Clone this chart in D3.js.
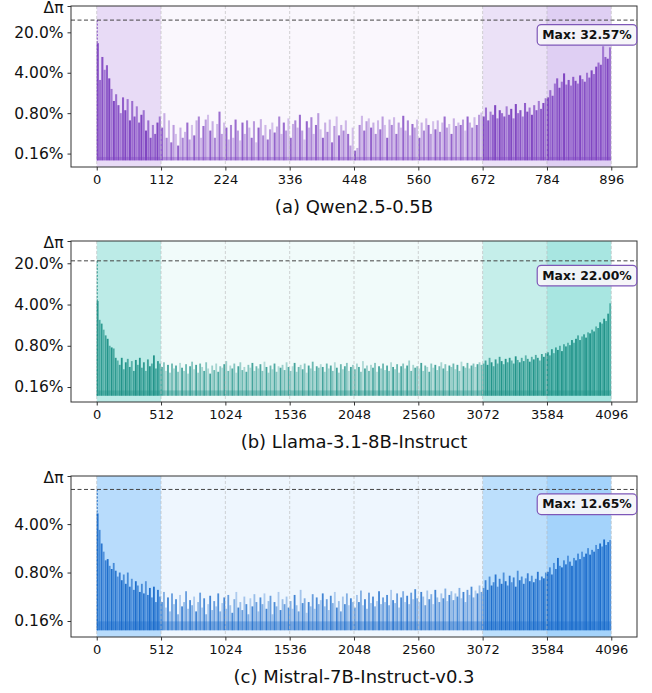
<!DOCTYPE html>
<html>
<head>
<meta charset="utf-8">
<script src="https://cdn.jsdelivr.net/npm/d3@7"></script>
<style>
  body { margin: 0; background: #fff; }
  text { font-family: "DejaVu Sans", sans-serif; }
</style>
</head>
<body>
<div id="chart"></div>
<script>
// token positions shown on the x axis
const qwenTicks = [0, 112, 224, 336, 448, 560, 672, 784, 896];
const longTicks = [0, 512, 1024, 1536, 2048, 2560, 3072, 3584, 4096];

// region boundaries (head / middle / tail1 / tail2)
const qwenBounds = [0, 112, 672, 784, 896];
const longBounds = [0, 512, 3072, 3584, 4096];

// y tick values (%) and labels
const yTicksA = [0.16, 0.8, 4, 20];
const yLabelsA = ["0.16%", "0.80%", "4.00%", "20.0%"];
const yTicksC = [0.16, 0.8, 4];
const yLabelsC = ["0.16%", "0.80%", "4.00%"];

// max value of each model (the sink token at position 0), in %
const maxValues = [32.57, 22.00, 12.65];

// Δπ per bin (%), binned along the sequence
const qwenValues = [
  13, 3.0, 7.5, 4.5, 5.4, 3.2, 2.1, 1.3, 1.7, 1.1, 0.8, 1.5, 0.9, 1.4,
  0.6, 1.3, 0.7, 1.05, 0.55, 0.75, 0.9, 0.4, 0.6, 0.3, 0.5, 0.35, 0.55, 0.7,
  0.45, 0.8, 0.3, 0.6, 0.25, 0.5, 0.35, 0.22, 0.45, 0.3,
  0.38, 0.55, 0.28, 0.5, 0.33, 0.6, 0.7, 0.3, 0.48, 0.62,
  0.75, 0.4, 0.58, 0.3, 0.52, 0.85, 0.35, 0.55, 0.45, 0.28,
  0.5, 0.3, 0.62, 0.4, 0.27, 0.55, 0.35, 0.6, 0.45, 0.3,
  0.58, 0.25, 0.45, 0.63, 0.33, 0.5, 0.28, 0.42, 0.55, 0.37,
  0.47, 0.7, 0.35, 0.55, 0.4, 0.65, 0.3, 0.52, 0.6, 0.45,
  0.75, 0.4, 0.28, 0.58, 0.45, 0.68, 0.35, 0.5, 0.8, 0.42,
  0.3, 0.55, 0.38, 0.62, 0.25, 0.48, 0.7, 0.33, 0.5, 0.4,
  0.6, 0.35, 0.22, 0.45, 0.18, 0.2, 0.5, 0.72, 0.4, 0.58,
  0.65, 0.45, 0.55, 0.35, 0.6, 0.42, 0.7, 0.5, 0.3, 0.62,
  0.5, 0.68, 0.35, 0.55, 0.45, 0.72, 0.4, 0.6, 0.33, 0.52,
  0.45, 0.62, 0.3, 0.55, 0.4, 0.65, 0.5, 0.35, 0.58, 0.42,
  0.6, 0.38, 0.55, 0.7, 0.45, 0.52, 0.35, 0.65, 0.48, 0.55,
  0.5, 0.62, 0.4, 0.7, 0.55, 0.45, 0.68, 0.5, 0.75, 0.82,
  0.7, 1.0, 0.6, 0.85, 0.75, 1.1, 0.65, 0.9, 0.8, 0.7, 1.05, 0.75, 0.95, 0.65,
  1.15, 0.8, 0.9, 0.7, 1.2, 0.85, 1.0, 0.75, 1.1, 0.9, 1.3, 0.95, 1.2, 1.45,
  1.5, 2.0, 1.6, 2.6, 3.2, 2.2, 2.8, 3.9, 2.5, 3.0, 2.4, 3.4, 2.9, 2.6,
  3.6, 3.1, 2.8, 4.0, 3.3, 4.4, 3.8, 5.1, 6.0, 5.5, 11.5, 7.5, 7.0, 11.0
];

const llamaValues = [
  4.6, 2.2, 1.9, 1.5, 1.2, 1.05, 0.8, 0.75, 0.72, 0.5,
  0.45, 0.38, 0.5, 0.32, 0.42, 0.48, 0.35, 0.44, 0.3, 0.46, 0.38,
  0.5, 0.34, 0.42, 0.3, 0.47, 0.36, 0.4, 0.55, 0.33, 0.44, 0.4,
  0.35, 0.42, 0.3, 0.38, 0.28, 0.4, 0.33, 0.37, 0.29, 0.41, 0.34, 0.3, 0.39, 0.27, 0.36, 0.43,
  0.32, 0.38, 0.28, 0.4, 0.35, 0.3, 0.42, 0.33, 0.27, 0.37, 0.31, 0.4, 0.29, 0.36, 0.34, 0.39,
  0.44, 0.3, 0.37, 0.33, 0.4, 0.28, 0.36, 0.42, 0.31, 0.35, 0.29, 0.38, 0.34, 0.41, 0.3, 0.36,
  0.33, 0.39, 0.3, 0.43, 0.35, 0.28, 0.37, 0.32, 0.4, 0.29, 0.36, 0.34, 0.38, 0.31, 0.42, 0.35,
  0.3, 0.36, 0.41, 0.29, 0.35, 0.38, 0.32, 0.4, 0.28, 0.37, 0.33, 0.43, 0.3, 0.36, 0.34, 0.39,
  0.35, 0.29, 0.4, 0.33, 0.37, 0.3, 0.42, 0.34, 0.28, 0.39, 0.32, 0.36, 0.41, 0.3, 0.35, 0.38,
  0.32, 0.4, 0.35, 0.29, 0.44, 0.33, 0.37, 0.3, 0.38, 0.34, 0.41, 0.29, 0.36, 0.33, 0.4, 0.31,
  0.37, 0.3, 0.42, 0.35, 0.32, 0.39, 0.28, 0.36, 0.4, 0.33, 0.37, 0.45, 0.3, 0.38, 0.34, 0.36,
  0.33, 0.41, 0.3, 0.37, 0.35, 0.29, 0.4, 0.34, 0.38, 0.31, 0.36, 0.42, 0.33, 0.39, 0.3, 0.37,
  0.35, 0.4, 0.32, 0.38, 0.3, 0.43, 0.36, 0.34, 0.41, 0.33, 0.37, 0.4, 0.35, 0.39, 0.42, 0.38,
  0.4, 0.45, 0.38, 0.5, 0.42, 0.36, 0.47, 0.4, 0.52, 0.44, 0.39, 0.48, 0.42, 0.5, 0.45, 0.4,
  0.53, 0.46, 0.42, 0.5, 0.44, 0.55, 0.48, 0.43, 0.52, 0.47, 0.56, 0.5, 0.45, 0.58, 0.52, 0.6,
  0.62, 0.55, 0.7, 0.6, 0.75, 0.68, 0.8, 0.65, 0.85, 0.78, 0.9, 0.82, 1.0, 0.9, 1.05, 1.2,
  1.0, 1.15, 1.25, 1.1, 1.35, 1.3, 1.5, 1.4, 1.7, 1.6, 2.0, 1.9, 2.3, 2.1, 2.8, 4.2
];

const mistralValues = [
  5.7, 3.3, 2.1, 1.6, 1.2, 1.25, 1.0, 0.9, 1.1, 0.85, 0.7, 0.8, 0.62, 0.75, 0.55, 0.8,
  0.5, 0.65, 0.45, 0.6, 0.52, 0.42, 0.55, 0.4, 0.6, 0.38, 0.48, 0.35, 0.5, 0.3, 0.45, 0.36,
  0.3, 0.42, 0.25, 0.35, 0.22, 0.4, 0.28, 0.33, 0.2, 0.38, 0.26, 0.3, 0.43, 0.24, 0.32, 0.27,
  0.36, 0.22, 0.3, 0.41, 0.25, 0.34, 0.2, 0.28, 0.37, 0.23, 0.31, 0.26, 0.4, 0.22, 0.29, 0.35,
  0.24, 0.38, 0.27, 0.21, 0.33, 0.42, 0.25, 0.3, 0.23, 0.36, 0.28, 0.2, 0.34, 0.26, 0.39, 0.3,
  0.22, 0.35, 0.28, 0.4, 0.24, 0.31, 0.37, 0.2, 0.3, 0.26, 0.42, 0.23, 0.33, 0.28, 0.36, 0.25,
  0.31, 0.24, 0.38, 0.27, 0.22, 0.45, 0.29, 0.34, 0.21, 0.3, 0.26, 0.39, 0.24, 0.35, 0.28, 0.32,
  0.4, 0.26, 0.33, 0.23, 0.37, 0.29, 0.42, 0.25, 0.31, 0.22, 0.36, 0.28, 0.4, 0.27, 0.34, 0.3,
  0.25, 0.38, 0.3, 0.44, 0.27, 0.33, 0.24, 0.41, 0.29, 0.36, 0.26, 0.31, 0.43, 0.28, 0.35, 0.3,
  0.38, 0.27, 0.45, 0.32, 0.29, 0.4, 0.25, 0.35, 0.43, 0.3, 0.37, 0.28, 0.41, 0.33, 0.46, 0.34,
  0.3, 0.42, 0.36, 0.27, 0.44, 0.33, 0.39, 0.28, 0.45, 0.35, 0.3, 0.4, 0.34, 0.47, 0.31, 0.38,
  0.43, 0.32, 0.4, 0.36, 0.48, 0.34, 0.42, 0.3, 0.45, 0.38, 0.5, 0.35, 0.44, 0.4, 0.52, 0.42,
  0.48, 0.62, 0.45, 0.7, 0.52, 0.58, 0.75, 0.5, 0.65, 0.55, 0.8, 0.6, 0.52, 0.72, 0.58, 0.68,
  0.5, 0.85, 0.62, 0.7, 0.55, 0.66, 0.78, 0.6, 0.72, 0.58, 0.65, 0.82, 0.62, 0.7, 0.66, 0.8,
  0.82, 0.95, 0.75, 1.1, 0.9, 1.3, 1.0, 0.95, 1.2, 1.05, 1.4, 1.15, 1.0, 1.3, 1.2, 1.5,
  1.25, 1.6, 1.35, 1.5, 1.8, 1.45, 1.7, 1.6, 2.0, 1.75, 2.1, 1.9, 2.4, 2.0, 2.2, 2.35
];

// bar base and the dense low band (%)
const floorValues = [0.122, 0.114, 0.1175];
const bandValues = [0.14, 0.14, 0.158];
const yDomains = [[0.0937, 57.1], [0.0892, 47.7], [0.094, 19.77]];

const titles = ["(a) Qwen2.5-0.5B", "(b) Llama-3.1-8B-Instruct", "(c) Mistral-7B-Instruct-v0.3"];

const panels = [
  {values: qwenValues, total: 896, ticks: qwenTicks, bounds: qwenBounds, yTicks: yTicksA, yLabels: yLabelsA,
   color: "#7b3fbf", fills: ["#e8dbf6", "#faf7fd", "#ebe1f7", "#dfcff3"], top: 6},
  {values: llamaValues, total: 4096, ticks: longTicks, bounds: longBounds, yTicks: yTicksA, yLabels: yLabelsA,
   color: "#1a8f85", fills: ["#bcebe7", "#f1fbfa", "#c5eeea", "#a8e6e1"], top: 241},
  {values: mistralValues, total: 4096, ticks: longTicks, bounds: longBounds, yTicks: yTicksC, yLabels: yLabelsC,
   color: "#1668c9", fills: ["#b8dcfc", "#eef6fe", "#bcdffc", "#a4d3fb"], top: 476}
];

// opacity cycles so the spikes don't look like a comb
const edgeAlpha = [0.95, 0.7, 0.88, 0.62, 0.8, 0.95, 0.66];
const midAlpha = [0.8, 0.4, 0.62, 0.35, 0.75, 0.5, 0.3];

const W = 652, H = 693;
const left = 71, right = 637, ph = 161;

const svg = d3.select("#chart").append("svg")
  .attr("width", W).attr("height", H)
  .style("background", "#fff");

panels.forEach((p, k) => {
  const top = p.top, bottom = top + ph;
  const pad = p.total * 0.05;
  const x = d3.scaleLinear().domain([-pad, p.total + pad]).range([left, right]);
  const y = d3.scaleLog().domain(yDomains[k]).range([bottom, top]);
  const g = svg.append("g");

  const clipId = "clip" + k;
  svg.append("clipPath").attr("id", clipId)
    .append("rect").attr("x", left).attr("y", top).attr("width", right - left).attr("height", ph);
  const plot = g.append("g").attr("clip-path", "url(#" + clipId + ")");

  // shaded regions
  plot.selectAll(".region")
    .data(d3.pairs(p.bounds))
    .enter().append("rect")
      .attr("x", d => x(d[0]))
      .attr("width", d => x(d[1]) - x(d[0]))
      .attr("y", top).attr("height", ph)
      .attr("fill", (d, i) => p.fills[i]);

  // dense low band from overlapping bars
  plot.append("rect")
    .attr("x", x(0)).attr("width", x(p.total) - x(0))
    .attr("y", y(bandValues[k]))
    .attr("height", y(floorValues[k]) - y(bandValues[k]))
    .attr("fill", p.color).attr("opacity", 0.35);

  // bars
  const bin = p.total / p.values.length;
  const bw = x(bin) - x(0);
  const regionOf = t => d3.bisectRight(p.bounds, t) - 1;
  plot.selectAll(".bar")
    .data(p.values)
    .enter().append("rect")
      .attr("x", (d, i) => x(i * bin))
      .attr("width", bw * 0.9)
      .attr("y", d => y(d))
      .attr("height", d => y(floorValues[k]) - y(d))
      .attr("fill", p.color)
      .attr("opacity", (d, i) => {
        const edge = regionOf(i * bin) !== 1;
        return (edge ? edgeAlpha : midAlpha)[i % 7];
      });

  // sink token at position 0 (the max)
  plot.append("line")
    .attr("x1", x(0) + 0.5).attr("x2", x(0) + 0.5)
    .attr("y1", y(maxValues[k])).attr("y2", y(floorValues[k]))
    .attr("stroke", p.color).attr("stroke-width", 1)
    .attr("stroke-dasharray", "2,1.5");

  // vertical grid
  plot.selectAll(".grid")
    .data(p.ticks)
    .enter().append("line")
      .attr("x1", d => x(d)).attr("x2", d => x(d))
      .attr("y1", top).attr("y2", bottom)
      .attr("stroke", "#bbb").attr("stroke-opacity", 0.7)
      .attr("stroke-width", 0.9)
      .attr("stroke-dasharray", "3,2");

  // max line
  g.append("line")
    .attr("x1", left).attr("x2", right)
    .attr("y1", y(maxValues[k])).attr("y2", y(maxValues[k]))
    .attr("stroke", "#444").attr("stroke-width", 1)
    .attr("stroke-dasharray", "4,2.5");

  // spines
  g.append("rect")
    .attr("x", left).attr("y", top).attr("width", right - left).attr("height", ph)
    .attr("fill", "none").attr("stroke", "#333").attr("stroke-width", 1);

  // axes
  const yVals = p.yTicks.concat([yDomains[k][1]]);
  const yLabs = p.yLabels.concat(["Δπ"]);
  const ya = g.append("g")
    .attr("transform", "translate(" + left + ",0)")
    .call(d3.axisLeft(y).tickValues(yVals).tickFormat((d, i) => yLabs[i]).tickSize(3.5).tickPadding(4));
  ya.select(".domain").remove();
  ya.selectAll("text").style("font-size", "15.5px").attr("fill", "#111")
    .filter((d, i) => i === yVals.length - 1).attr("dy", "0.45em");
  ya.selectAll("line").attr("stroke", "#333");

  const xa = g.append("g")
    .attr("transform", "translate(0," + bottom + ")")
    .call(d3.axisBottom(x).tickValues(p.ticks).tickFormat(d3.format("d")).tickSize(3.5).tickPadding(4));
  xa.select(".domain").remove();
  xa.selectAll("text").style("font-size", "13px").attr("fill", "#111");
  xa.selectAll("line").attr("stroke", "#333");

  // title
  g.append("text")
    .attr("x", (left + right) / 2).attr("y", bottom + 46)
    .attr("text-anchor", "middle")
    .style("font-size", "18px").attr("fill", "#111")
    .text(titles[k]);

  // max box
  const by = y(maxValues[k]) + 4.5;
  const box = g.append("g");
  const label = box.append("text")
    .attr("x", right - 50).attr("y", by + 14.5)
    .attr("text-anchor", "middle")
    .style("font-size", "12.4px").style("font-weight", "bold").attr("fill", "#111")
    .text("Max: " + maxValues[k].toFixed(2) + "%");
  const tw = label.node().getComputedTextLength();
  box.insert("rect", "text")
    .attr("x", right - 50 - tw / 2 - 5).attr("y", by)
    .attr("width", tw + 10).attr("height", 20.6)
    .attr("rx", 4)
    .attr("fill", "#f6f5f8").attr("fill-opacity", 0.92)
    .attr("stroke", "#7e57b8").attr("stroke-width", 1.2);
});
</script>
</body>
</html>
